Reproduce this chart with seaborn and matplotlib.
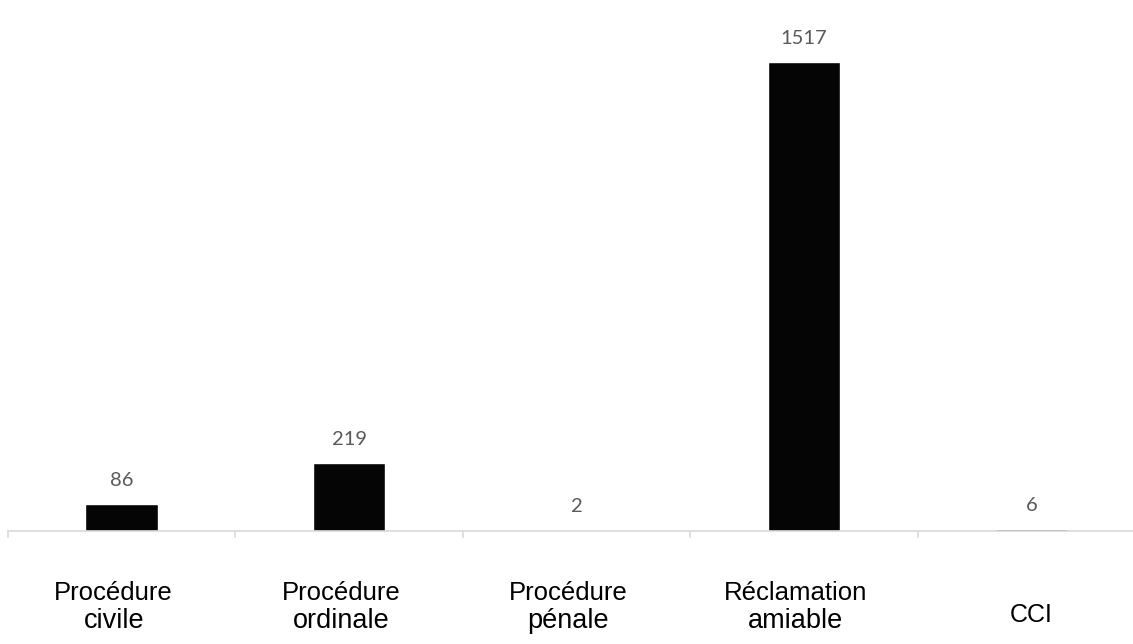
import matplotlib
matplotlib.use("Agg")
import matplotlib.pyplot as plt
import matplotlib.transforms as mtransforms
import seaborn as sns
import pandas as pd
import numpy as np

categories_line1 = ["Procédure", "Procédure", "Procédure", "Réclamation", ""]
categories_line2 = ["civile", "ordinale", "pénale", "amiable", "CCI"]
categories = ["Procédure civile", "Procédure ordinale", "Procédure pénale",
              "Réclamation amiable", "CCI"]
values = [86, 219, 2, 1517, 6]

sns.set_theme(style="white")
plt.rcParams['font.family'] = ['Liberation Sans', 'DejaVu Sans']

df = pd.DataFrame({"cat": categories, "val": values})

fig = plt.figure(figsize=(11.33, 6.44), dpi=100)
fig.patch.set_facecolor("white")
ax = fig.add_axes([8 / 1133, (644 - 531) / 644, 1137 / 1133, 531 / 644])
ax.set_facecolor("white")

sns.barplot(data=df, x="cat", y="val", color="#050505", width=0.32,
            saturation=1, ax=ax, order=categories)

ax.set_xlim(-0.5, len(categories) - 0.5)
ax.set_ylim(0, 1717)

for s in ["top", "right", "left"]:
    ax.spines[s].set_visible(False)
ax.spines["bottom"].set_color("#d9d9d9")
ax.spines["bottom"].set_linewidth(1.2)
ax.set_yticks([])
ax.set_xlabel("")
ax.set_ylabel("")
ax.set_xticks(range(len(categories)))
ax.set_xticklabels([])
ax.tick_params(axis="x", which="major", length=0)
ax.set_xticks(np.arange(-0.5, len(categories), 1), minor=True)
ax.tick_params(axis="x", which="minor", length=5, color="#d9d9d9", width=1.2,
               bottom=True)

# value labels
for i, v in enumerate(values):
    ax.annotate(str(v), xy=(i, v), xytext=(0, 17), textcoords="offset points",
                ha="center", va="center", fontsize=14.5, color="#595959",
                family=["Lato", "DejaVu Sans"])

# category labels (two lines, different sizes)
base = mtransforms.blended_transform_factory(ax.transData, fig.transFigure)
shift = mtransforms.ScaledTranslation(-8 / 100, 0, fig.dpi_scale_trans)
for i, (l1, l2) in enumerate(zip(categories_line1, categories_line2)):
    if l1:
        ax.text(i, 1 - 593 / 644, l1, transform=base + shift, ha="center",
                va="center", fontsize=18.5, color="black")
        ax.text(i, 1 - 621 / 644, l2, transform=base + shift, ha="center",
                va="center", fontsize=19.5, color="black")
    else:
        ax.text(i, 1 - 615 / 644, l2, transform=base, ha="center", va="center",
                fontsize=18, color="black")

fig.savefig("out.png", dpi=100, facecolor="white")
